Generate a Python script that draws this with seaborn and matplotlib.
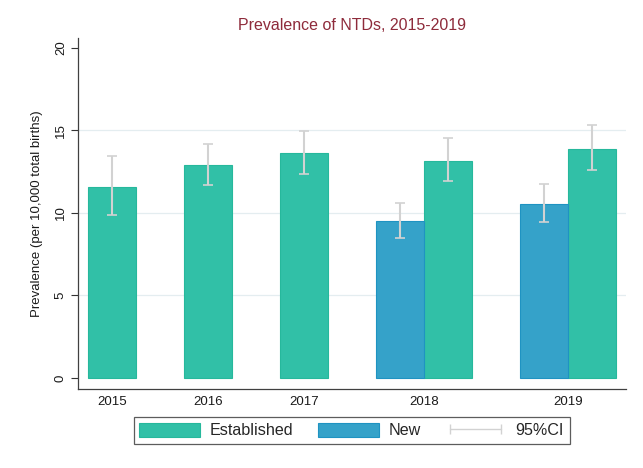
import matplotlib
matplotlib.use("Agg")
import matplotlib.pyplot as plt
from matplotlib.patches import Patch
from matplotlib.lines import Line2D
import seaborn as sns
import numpy as np
import pandas as pd

# values
years = ["2015", "2016", "2017", "2018", "2019"]
established = [11.56, 12.89, 13.62, 13.17, 13.90]
established_lo = [9.86, 11.70, 12.36, 11.94, 12.58]
established_hi = [13.47, 14.16, 14.97, 14.55, 15.30]
new = [None, None, None, 9.49, 10.55]
new_lo = [None, None, None, 8.47, 9.45]
new_hi = [None, None, None, 10.63, 11.78]

colors = {"Established": "#31c0a7", "New": "#35a2c9"}
edge_colors = {"Established": "#26b89c", "New": "#1f93c2"}

# build long table; bars of one year sit side by side, one bar-width gap between years
rows = []
tick_pos = []
pos = 0.0
for i, yr in enumerate(years):
    group = []
    if new[i] is not None:
        group.append(("New", new[i], new_lo[i], new_hi[i]))
    group.append(("Established", established[i], established_lo[i], established_hi[i]))
    start = pos
    for name, val, lo, hi in group:
        rows.append({"pos": pos, "value": val, "lo": lo, "hi": hi, "type": name, "year": yr})
        pos += 1
    tick_pos.append((start + pos - 1) / 2)
    pos += 1
df = pd.DataFrame(rows)

sns.set_style("white")
plt.rcParams["font.family"] = ["Liberation Sans", "DejaVu Sans"]

fig, ax = plt.subplots(figsize=(6.43, 4.68), dpi=100)
fig.subplots_adjust(left=0.1213, right=0.9736, bottom=0.1688, top=0.9188)

sns.barplot(data=df, x="pos", y="value", hue="type", hue_order=["Established", "New"],
            palette=colors, saturation=1, native_scale=True, dodge=False, width=1.0,
            errorbar=None, legend=False, ax=ax, zorder=2)

# edge colour per bar, matched by bar position
type_at = dict(zip(df["pos"], df["type"]))
for patch in ax.patches:
    xc = patch.get_x() + patch.get_width() / 2
    key = min(type_at, key=lambda p: abs(p - xc))
    patch.set_edgecolor(edge_colors[type_at[key]])
    patch.set_linewidth(0.8)

ax.errorbar(df["pos"], df["value"],
            yerr=[df["value"] - df["lo"], df["hi"] - df["value"]],
            fmt="none", ecolor="#d2d2d2", elinewidth=1.5, capsize=3.5, capthick=1.2, zorder=3)

ax.set_xlim(-0.7125, 10.70)
ax.set_ylim(-0.667, 20.6)

ax.set_yticks([0, 5, 10, 15, 20])
ax.set_yticklabels(["0", "5", "10", "15", "20"], rotation=90, va="center", fontsize=9.5)
ax.set_xticks(tick_pos)
ax.set_xticklabels(years, fontsize=9.5)
ax.tick_params(axis="x", length=0, pad=5, colors="#1a1a1a")
ax.tick_params(axis="y", length=5, width=0.8, pad=3, color="#333333", labelcolor="#1a1a1a", left=True)

for yv in [5, 10, 15]:
    ax.axhline(yv, color="#e4edf0", linewidth=0.9, zorder=0)

sns.despine(ax=ax, top=True, right=True)
for side in ["left", "bottom"]:
    ax.spines[side].set_color("#404040")
    ax.spines[side].set_linewidth(0.9)

ax.set_xlabel("")
ax.set_ylabel("Prevalence (per 10,000 total births)", fontsize=9.5, color="#1a1a1a")
ax.yaxis.set_label_coords(-0.064, 0.5)
ax.set_title("Prevalence of NTDs, 2015-2019", fontsize=11.5, color="#8e2b3b", pad=6)

handles = [
    Patch(facecolor=colors["Established"], edgecolor=edge_colors["Established"], linewidth=0.8),
    Patch(facecolor=colors["New"], edgecolor=edge_colors["New"], linewidth=0.8),
    Line2D([0], [0], color="#d2d2d2", linewidth=1, marker="|", markersize=7, markeredgewidth=1),
]
leg = fig.legend(handles, ["Established", "New", "95%CI"], loc="center",
                 bbox_to_anchor=(0.547, 0.080), bbox_transform=fig.transFigure,
                 ncol=3, fontsize=11.6, frameon=True, fancybox=False,
                 handlelength=3.75, handleheight=1.0, handletextpad=0.6,
                 columnspacing=1.55, numpoints=2, borderpad=0.35, borderaxespad=0)
leg.get_frame().set_edgecolor("#333333")
leg.get_frame().set_linewidth(0.9)

fig.savefig("out.png", dpi=100)
